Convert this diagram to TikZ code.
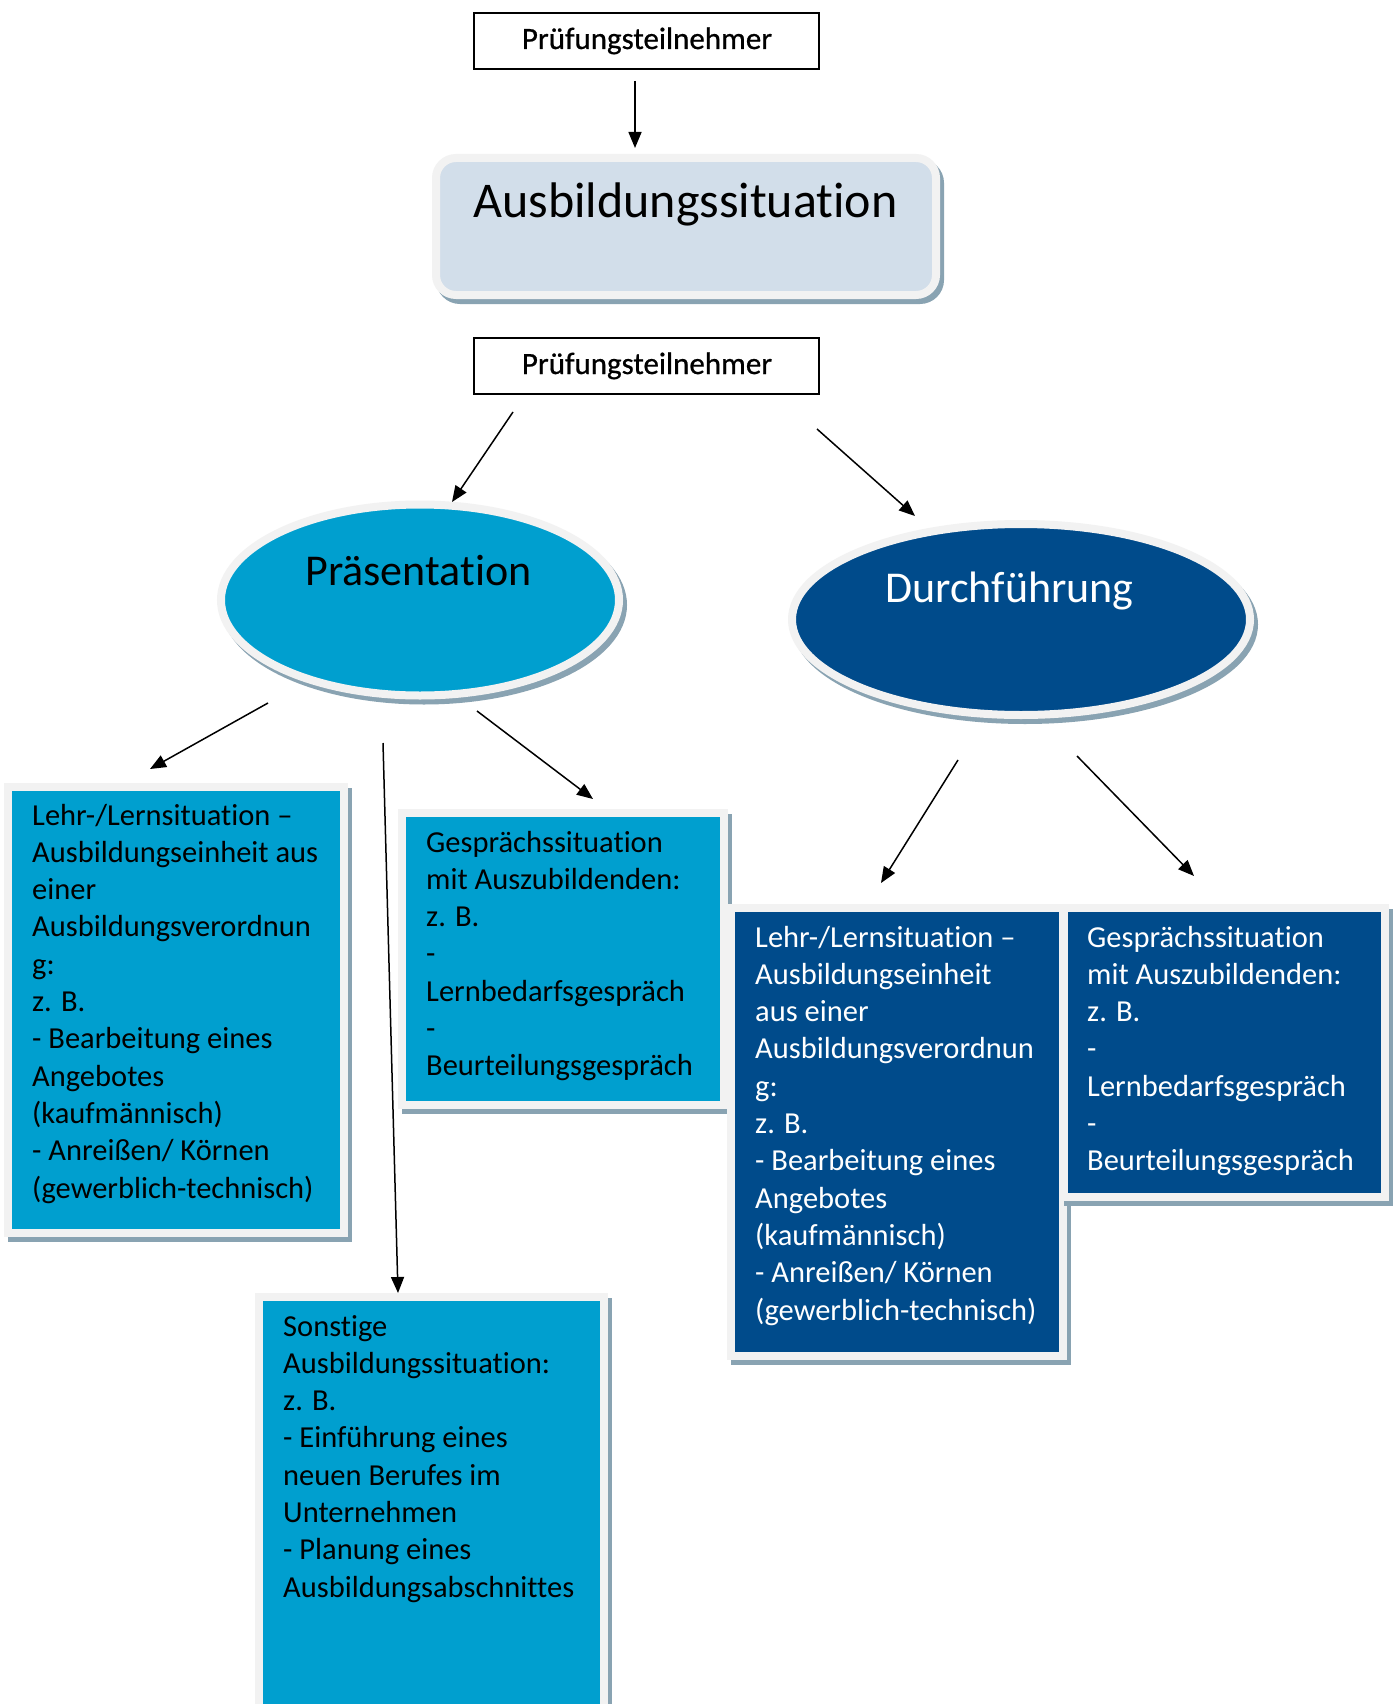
\documentclass[tikz,border=0pt]{standalone}
\usepackage{fontspec}
\setmainfont{Carlito}[Ligatures={NoCommon,NoRare,NoContextual}]
\newfontfamily\medfont{Carlito}[Ligatures={NoCommon,NoRare,NoContextual},FakeBold=0.7]
\usetikzlibrary{arrows.meta,shapes.geometric}
\definecolor{lblue}{RGB}{0,159,207}
\definecolor{dblue}{RGB}{0,75,139}
\definecolor{pale}{RGB}{210,222,234}
\definecolor{rim}{RGB}{242,242,242}
\definecolor{shc}{RGB}{137,163,178}
\begin{document}
\begin{tikzpicture}[x=1pt,y=-1pt,
  shad/.style={preaction={fill=shc,draw=shc,line width=8pt,transform canvas={shift={(4pt,-5pt)}}}},
  card/.style={rectangle,shad,draw=rim,line width=8pt,inner sep=0pt,outer sep=0pt},
  oval/.style={ellipse,shad,draw=rim,line width=8pt,inner sep=0pt,outer sep=0pt},
  plainbox/.style={rectangle,draw=black,fill=white,line width=1.4pt,inner sep=0pt},
  body/.style={inner sep=0pt,anchor=base west,font=\fontsize{30.5}{37.3}\selectfont},
  head/.style={inner sep=0pt,anchor=base},
  arr/.style={line width=1.5pt,-{Triangle[length=16pt,width=13pt]}}
]
\clip (0,0) rectangle (1394,1704);
\fill[white] (0,0) rectangle (1394,1704);

% top boxes
\node[plainbox, minimum width=345pt, minimum height=56pt] (B1) at (646.5,41) {};
\node[head, font=\medfont\fontsize{31}{37}\selectfont] (tB1) at (647,49) {Prüfungsteilnehmer};
\node[card, fill=pale, rounded corners=20pt, minimum width=500pt, minimum height=137pt] (A) at (686,226.5) {};
\node[head, font=\fontsize{50}{60}\selectfont] (tA) at (685.5,218) {Ausbildungssituation};
\node[plainbox, minimum width=345pt, minimum height=56pt] (B2) at (646.5,366) {};
\node[head, font=\medfont\fontsize{31}{37}\selectfont] (tB2) at (647,374) {Prüfungsteilnehmer};

% ellipses
\node[oval, fill=lblue, minimum width=398pt, minimum height=191pt] (P) at (420,600) {};
\node[head, font=\fontsize{44}{52}\selectfont] (tP) at (418.5,585) {Präsentation};
\node[oval, fill=dblue, minimum width=458pt, minimum height=191pt] (D) at (1021,619.5) {};
\node[head, font=\fontsize{44}{52}\selectfont, text=white] (tD) at (1009.5,602) {Durchführung};

% content boxes
\node[card, fill=lblue, minimum width=336pt, minimum height=446pt] (L1) at (176,1010) {};
\node[body] (tL1) at (32,825) {\parbox[t]{400pt}{Lehr-/Lernsituation –\\Ausbildungseinheit aus\\einer\\Ausbildungsverordnun\\g:\\z. B.\\- Bearbeitung eines\\Angebotes\\(kaufmännisch)\\- Anreißen/ Körnen\\(gewerblich-technisch)}};

\node[card, fill=lblue, minimum width=322pt, minimum height=292pt] (G1) at (563,959) {};
\node[body] (tG1) at (426,852) {\parbox[t]{400pt}{Gesprächssituation\\mit Auszubildenden:\\z. B.\\-\\Lernbedarfsgespräch\\-\\Beurteilungsgespräch}};

\node[card, fill=lblue, minimum width=345pt, minimum height=415pt] (S) at (431.5,1504.5) {};
\node[body] (tS) at (283,1336) {\parbox[t]{400pt}{Sonstige\\Ausbildungssituation:\\z. B.\\- Einführung eines\\neuen Berufes im\\Unternehmen\\- Planung eines\\Ausbildungsabschnittes}};

\node[card, fill=dblue, minimum width=332pt, minimum height=448pt] (L2) at (897,1132) {};
\node[body, text=white] (tL2) at (755,947) {\parbox[t]{400pt}{Lehr-/Lernsituation –\\Ausbildungseinheit\\aus einer\\Ausbildungsverordnun\\g:\\z. B.\\- Bearbeitung eines\\Angebotes\\(kaufmännisch)\\- Anreißen/ Körnen\\(gewerblich-technisch)}};

\node[card, fill=dblue, minimum width=321pt, minimum height=289pt] (G2) at (1224.5,1052.5) {};
\node[body, text=white] (tG2) at (1087,947) {\parbox[t]{400pt}{Gesprächssituation\\mit Auszubildenden:\\z. B.\\-\\Lernbedarfsgespräch\\-\\Beurteilungsgespräch}};

% connector ends
\coordinate (a1s) at (635,81);   \coordinate (a1e) at (635,148);
\coordinate (a2s) at (513,412);  \coordinate (a2e) at (452,502);
\coordinate (a3s) at (817,429);  \coordinate (a3e) at (915,516);
\coordinate (a4s) at (268,703);  \coordinate (a4e) at (150,769);
\coordinate (a5s) at (383,743);  \coordinate (a5e) at (398,1293);
\coordinate (a6s) at (477,711);  \coordinate (a6e) at (593,799);
\coordinate (a7s) at (958,760);  \coordinate (a7e) at (881,883);
\coordinate (a8s) at (1077,756); \coordinate (a8e) at (1194,876);

\draw[arr] (a1s) -- (a1e);
\draw[arr] (a2s) -- (a2e);
\draw[arr] (a3s) -- (a3e);
\draw[arr] (a4s) -- (a4e);
\draw[arr] (a5s) -- (a5e);
\draw[arr] (a6s) -- (a6e);
\draw[arr] (a7s) -- (a7e);
\draw[arr] (a8s) -- (a8e);
\end{tikzpicture}
\end{document}
